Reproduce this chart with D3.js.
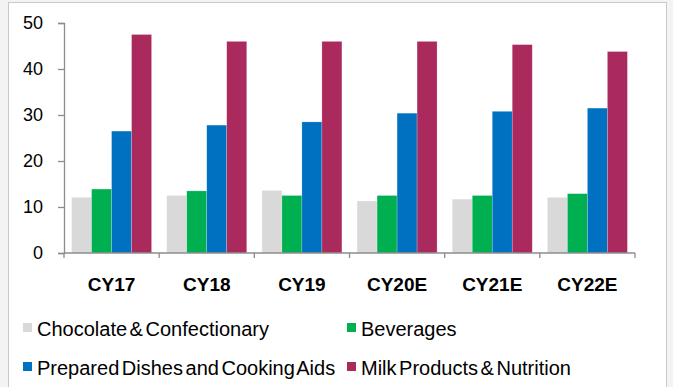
<!DOCTYPE html>
<html>
<head>
<meta charset="utf-8">
<script src="https://cdn.jsdelivr.net/npm/d3@7"></script>
<style>
  body { margin: 0; background: #f3f3f3; }
  svg { display: block; font-family: "Liberation Sans", Arial, sans-serif; }
</style>
</head>
<body>
<svg id="chart" width="673" height="387"></svg>
<script>
// Data
const years = ["CY17", "CY18", "CY19", "CY20E", "CY21E", "CY22E"];
const seriesNames = ["Chocolate & Confectionary", "Beverages", "Prepared Dishes and Cooking Aids", "Milk Products & Nutrition"];
const chocolate = [12.1, 12.5, 13.6, 11.3, 11.7, 12.1];
const beverages = [13.9, 13.5, 12.5, 12.5, 12.5, 12.9];
const prepared  = [26.5, 27.8, 28.5, 30.4, 30.8, 31.5];
const milk      = [47.5, 46.0, 46.0, 46.0, 45.3, 43.8];
const yTicks = [0, 10, 20, 30, 40, 50];
const colors = ["#d9d9d9", "#00b050", "#0070c0", "#aa2a5e"];

const seriesValues = [chocolate, beverages, prepared, milk];

const svg = d3.select("#chart");

// chart frame
svg.append("rect")
  .attr("x", 8.5).attr("y", 2.5)
  .attr("width", 658).attr("height", 400)
  .attr("fill", "#fff")
  .attr("stroke", "#c9c9c9");

const margin = { top: 23, left: 64, right: 38, bottom: 134 };
const width = 673 - margin.left - margin.right;
const height = 387 - margin.top - margin.bottom;

const g = svg.append("g")
  .attr("transform", "translate(" + margin.left + "," + margin.top + ")");

const x = d3.scaleBand().domain(years).range([0, width]).paddingInner(0).paddingOuter(0);
const x1 = d3.scaleBand().domain(d3.range(seriesNames.length))
  .range([0, x.bandwidth()]).paddingInner(0).paddingOuter(0.38);
const y = d3.scaleLinear().domain([0, 50]).range([height, 0]);

// bars
const groups = g.selectAll(".year")
  .data(years)
  .enter().append("g")
  .attr("class", "year")
  .attr("transform", d => "translate(" + x(d) + ",0)");

groups.selectAll("rect")
  .data((d, i) => seriesValues.map((vals, s) => ({ s: s, v: vals[i] })))
  .enter().append("rect")
  .attr("x", d => x1(d.s))
  .attr("y", d => y(d.v))
  .attr("width", x1.bandwidth())
  .attr("height", d => height - y(d.v))
  .attr("fill", d => colors[d.s])
  .attr("stroke", "rgba(255,255,255,0.35)")
  .attr("stroke-width", 0.6);

// y axis
const yAxis = g.append("g")
  .call(d3.axisLeft(y).tickValues(yTicks).tickSize(6).tickPadding(15));
yAxis.selectAll("path, line").attr("stroke", "#8c8c8c").attr("stroke-width", 1.3);
yAxis.selectAll("text").attr("font-size", "18px").attr("fill", "#000")
  .attr("font-family", "Liberation Sans, Arial, sans-serif");

// x axis: ticks at the category boundaries
const xAxis = g.append("g")
  .attr("transform", "translate(0," + height + ")");
xAxis.append("line")
  .attr("x1", 0).attr("x2", width)
  .attr("stroke", "#8c8c8c").attr("stroke-width", 1.3);
xAxis.selectAll(".bound")
  .data(years.concat(["end"]))
  .enter().append("line")
  .attr("x1", (d, i) => i * x.step())
  .attr("x2", (d, i) => i * x.step())
  .attr("y1", 0).attr("y2", 5)
  .attr("stroke", "#8c8c8c").attr("stroke-width", 1.3);
xAxis.selectAll(".lbl")
  .data(years)
  .enter().append("text")
  .attr("x", d => x(d) + x.bandwidth() / 2)
  .attr("y", 38)
  .attr("text-anchor", "middle")
  .attr("font-size", "19px")
  .attr("font-weight", "bold")
  .text(d => d);

// legend
const legendCols = [23, 347];
const legendRows = [336, 375];
const legend = svg.selectAll(".legend")
  .data(seriesNames)
  .enter().append("g")
  .attr("transform", (d, i) => "translate(" + legendCols[i % 2] + "," + legendRows[Math.floor(i / 2)] + ")");

legend.append("rect")
  .attr("x", 0).attr("y", -13)
  .attr("width", 9).attr("height", 9)
  .attr("fill", (d, i) => colors[i]);

legend.append("text")
  .attr("x", 14)
  .attr("y", 0)
  .attr("font-size", "20px")
  .attr("word-spacing", "-3px")
  .text(d => d);
</script>
</body>
</html>
